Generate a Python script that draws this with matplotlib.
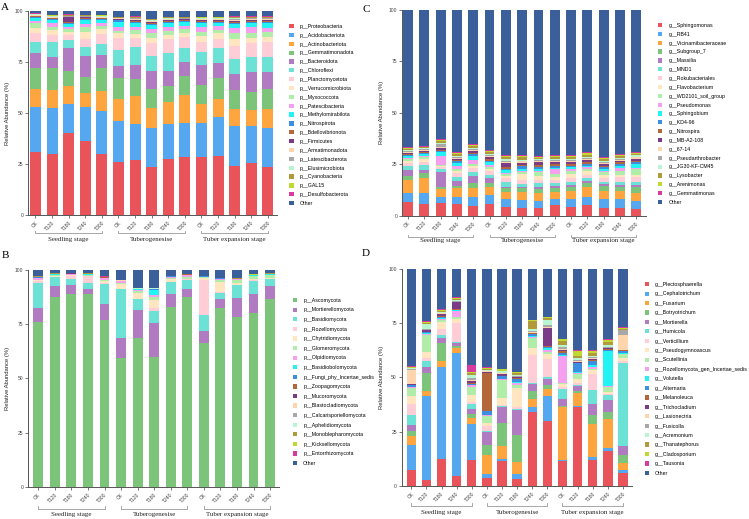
import matplotlib.pyplot as plt
import numpy as np

plt.rcParams["font.family"] = ["Liberation Sans", "DejaVu Sans"]

samples = ["CK", "T120", "T180", "T240", "T300"] * 3
stages = ["Seedling stage", "Tuberogenesise", "Tuber expansion stage"]

palette = [
    "#E9545A", "#55A8F0", "#FFA53F", "#7CC47A", "#B07BC0", "#6CE2D6", "#FFCDD6",
    "#FFE5C0", "#B0EDA8", "#F4A0EE", "#22F4F4", "#3B8EE0", "#B5673C", "#7B3B86",
    "#FFD5AE", "#A8A8A8", "#B8F5D0", "#B09A3C", "#BFD930", "#D93A9E", "#3A5F9B",
]

# ---- A: bacterial phyla (one row per sample, columns follow a_taxa)
a_taxa = [
    "p__Proteobacteria", "p__Acidobacteriota", "p__Actinobacteriota", "p__Gemmatimonadota",
    "p__Bacteroidota", "p__Chloroflexi", "p__Planctomycetota", "p__Verrucomicrobiota",
    "p__Myxococcota", "p__Patescibacteria", "p__Methylomirabilota", "p__Nitrospirota",
    "p__Bdellovibrionota", "p__Firmicutes", "p__Armatimonadota", "p__Latescibacterota",
    "p__Elusimicrobiota", "p__Cyanobacteria", "p__GAL15", "p__Desulfobacterota", "Other",
]
a_values = [
    [31.0, 21.8, 8.8, 10.3, 7.6, 5.4, 4.5, 2.5, 2.0, 1.3, 1.3, 0.5, 0.4, 0.3, 0.3, 0.2, 0.2, 0.2, 0.1, 0.1, 1.2],
    [29.9, 22.7, 8.7, 10.6, 5.7, 7.4, 3.2, 2.5, 1.6, 1.7, 1.6, 0.5, 0.4, 0.3, 0.3, 0.2, 0.2, 0.2, 0.1, 0.1, 2.1],
    [40.0, 14.4, 9.0, 7.2, 11.4, 3.8, 2.4, 1.7, 1.1, 1.3, 1.3, 0.5, 0.4, 2.5, 0.3, 0.2, 0.2, 0.2, 0.1, 0.3, 1.7],
    [36.3, 16.5, 7.2, 7.5, 10.5, 4.6, 3.6, 3.4, 2.8, 1.3, 2.0, 0.4, 0.4, 0.4, 0.3, 0.2, 0.2, 0.2, 0.1, 0.1, 2.0],
    [29.9, 21.1, 9.9, 11.3, 6.2, 5.4, 4.9, 2.3, 1.6, 1.4, 1.6, 0.4, 0.4, 0.4, 0.3, 0.2, 0.2, 0.2, 0.1, 0.1, 2.1],
    [26.1, 20.0, 10.8, 10.1, 6.2, 7.7, 5.7, 2.4, 1.4, 1.9, 2.5, 0.6, 0.4, 0.3, 0.3, 0.2, 0.2, 0.2, 0.1, 0.1, 2.8],
    [27.0, 17.6, 13.4, 8.7, 6.8, 8.7, 4.4, 2.1, 1.7, 1.6, 2.0, 0.6, 0.5, 0.5, 0.4, 0.3, 0.3, 0.3, 0.2, 0.2, 2.5],
    [23.7, 19.1, 9.5, 9.5, 8.8, 7.4, 6.2, 2.4, 2.4, 2.0, 2.0, 0.6, 0.5, 0.5, 0.4, 0.3, 0.3, 0.3, 0.2, 0.2, 3.7],
    [27.5, 16.9, 11.2, 7.6, 7.6, 8.4, 6.9, 2.1, 2.0, 1.8, 2.0, 0.6, 0.5, 0.5, 0.4, 0.3, 0.3, 0.3, 0.2, 0.2, 2.7],
    [28.6, 16.7, 13.5, 9.3, 6.9, 7.0, 5.1, 2.3, 1.6, 1.6, 2.2, 0.5, 0.4, 0.3, 0.3, 0.2, 0.2, 0.2, 0.2, 0.2, 2.7],
    [28.6, 16.7, 8.9, 9.4, 9.9, 6.2, 5.1, 2.9, 2.2, 2.4, 2.0, 0.5, 0.4, 0.4, 0.3, 0.3, 0.3, 0.2, 0.2, 0.2, 2.9],
    [28.9, 19.3, 8.8, 10.0, 7.7, 7.3, 4.3, 2.8, 1.6, 1.9, 1.7, 0.5, 0.4, 0.4, 0.3, 0.3, 0.3, 0.2, 0.2, 0.2, 2.9],
    [24.2, 19.6, 8.2, 9.3, 7.8, 7.4, 6.5, 3.3, 2.8, 2.4, 2.1, 0.6, 0.5, 0.5, 0.5, 0.4, 0.4, 0.4, 0.3, 0.3, 2.5],
    [25.7, 18.1, 7.7, 8.6, 10.2, 7.3, 6.6, 2.7, 2.5, 2.8, 1.8, 0.6, 0.5, 0.5, 0.4, 0.4, 0.3, 0.3, 0.3, 0.2, 2.5],
    [23.5, 19.0, 9.5, 9.8, 8.5, 7.0, 7.3, 2.7, 2.2, 2.3, 2.2, 0.6, 0.5, 0.5, 0.4, 0.4, 0.3, 0.3, 0.3, 0.2, 2.5],
]

# ---- B: fungal phyla
b_taxa = [
    "p__Ascomycota", "p__Mortierellomycota", "p__Basidiomycota", "p__Rozellomycota",
    "p__Chytridiomycota", "p__Glomeromycota", "p__Olpidiomycota", "p__Basidiobolomycota",
    "p__Fungi_phy_Incertae_sedis", "p__Zoopagomycota", "p__Mucoromycota",
    "p__Blastocladiomycota", "p__Calcarisporiellomycota", "p__Aphelidiomycota",
    "p__Monoblepharomycota", "p__Kickxellomycota", "p__Entorrhizomycota", "Other",
]
b_values = [
    [76.7, 6.4, 12.0, 0.8, 0.3, 0.2, 1.0, 0.1, 0.1, 0.1, 0.1, 0.05, 0.05, 0.05, 0.05, 0.05, 0.05, 2.9],
    [88.2, 5.2, 4.0, 0.3, 0.4, 0.3, 0.3, 0.1, 0.1, 0.05, 0.05, 0.05, 0.05, 0.05, 0.05, 0.05, 0.05, 1.5],
    [89.7, 4.2, 3.0, 1.3, 0.2, 0.2, 0.4, 0.1, 0.1, 0.05, 0.05, 0.05, 0.05, 0.05, 0.05, 0.05, 0.05, 1.3],
    [89.6, 2.4, 2.8, 3.0, 0.2, 0.2, 0.4, 0.1, 0.1, 0.05, 0.05, 0.05, 0.05, 0.05, 0.05, 0.05, 0.05, 1.5],
    [77.5, 7.2, 9.5, 0.1, 1.0, 0.7, 0.6, 0.1, 0.1, 0.3, 0.1, 0.05, 0.05, 0.05, 0.05, 0.05, 0.05, 3.0],
    [60.1, 9.2, 22.6, 0.2, 2.5, 0.3, 0.8, 0.1, 0.1, 0.05, 0.05, 0.05, 0.05, 0.05, 0.05, 0.05, 0.05, 4.6],
    [68.6, 13.0, 5.1, 0.3, 2.6, 0.7, 0.8, 0.2, 0.1, 0.05, 0.05, 0.05, 0.05, 0.05, 0.05, 0.05, 0.05, 8.4],
    [60.1, 15.7, 5.3, 1.6, 3.8, 1.2, 0.8, 2.3, 0.6, 0.05, 0.05, 0.05, 0.05, 0.05, 0.05, 0.05, 0.05, 8.4],
    [83.4, 5.9, 5.3, 0.2, 1.3, 0.6, 0.4, 0.1, 0.1, 0.05, 0.05, 0.05, 0.05, 0.05, 0.05, 0.05, 0.05, 2.6],
    [88.2, 3.7, 4.3, 0.1, 0.3, 0.9, 0.9, 0.1, 0.1, 0.05, 0.05, 0.05, 0.05, 0.05, 0.05, 0.05, 0.05, 1.7],
    [66.7, 5.5, 7.4, 16.3, 0.6, 0.5, 0.2, 0.1, 0.1, 0.05, 0.05, 0.05, 0.05, 0.05, 0.05, 0.05, 0.05, 2.6],
    [82.7, 4.0, 3.0, 0.4, 4.5, 1.3, 0.3, 0.1, 0.1, 0.05, 0.05, 0.05, 0.05, 0.05, 0.05, 0.05, 0.05, 3.5],
    [78.8, 8.8, 5.8, 0.2, 1.0, 1.3, 0.2, 0.1, 0.1, 0.05, 0.05, 0.05, 0.05, 0.05, 0.05, 0.05, 0.05, 3.8],
    [80.8, 8.9, 6.2, 0.2, 0.4, 1.6, 0.1, 0.1, 0.1, 0.05, 0.05, 0.05, 0.05, 0.05, 0.05, 0.05, 0.05, 2.0],
    [87.0, 6.1, 3.1, 0.1, 0.4, 1.4, 0.2, 0.1, 0.1, 0.05, 0.05, 0.05, 0.05, 0.05, 0.05, 0.05, 0.05, 1.5],
]

# ---- C: bacterial genera
c_taxa = [
    "g__Sphingomonas", "g__RB41", "g__Vicinamibacteraceae", "g__Subgroup_7", "g__Massilia",
    "g__MND1", "g__Rokubacteriales", "g__Flavobacterium", "g__WD2101_soil_group",
    "g__Pseudomonas", "g__Sphingobium", "g__KD4-96", "g__Nitrospira", "g__MB-A2-108",
    "g__67-14", "g__Pseudarthrobacter", "g__JG30-KF-CM45", "g__Lysobacter",
    "g__Arenimonas", "g__Gemmatimonas", "Other",
]
c_values = [
    [6.8, 4.4, 6.1, 2.0, 2.9, 1.9, 1.5, 1.0, 0.8, 0.6, 0.8, 0.6, 0.6, 0.5, 0.4, 0.4, 0.4, 0.6, 0.4, 0.5, 66.8],
    [5.8, 5.1, 7.3, 2.4, 1.6, 2.4, 1.6, 1.2, 1.0, 0.7, 0.8, 0.6, 0.6, 0.6, 0.4, 0.4, 0.4, 0.4, 0.3, 0.4, 66.1],
    [6.0, 3.2, 3.6, 1.3, 7.3, 1.1, 1.3, 0.6, 0.4, 4.4, 1.6, 0.7, 0.6, 0.6, 0.5, 1.7, 0.5, 0.8, 0.5, 0.5, 62.8],
    [5.8, 3.4, 4.1, 1.3, 2.3, 2.1, 1.6, 1.1, 0.8, 1.6, 1.6, 0.8, 0.7, 0.5, 0.5, 0.4, 0.5, 1.0, 0.5, 0.3, 68.9],
    [4.9, 4.3, 4.4, 2.1, 3.6, 2.1, 1.6, 1.0, 0.9, 2.4, 1.6, 0.9, 0.8, 0.8, 0.6, 0.5, 0.5, 1.0, 0.6, 0.5, 64.9],
    [5.7, 4.3, 4.1, 1.9, 2.2, 1.6, 1.8, 1.2, 1.0, 0.9, 1.2, 0.8, 0.8, 0.9, 0.6, 0.5, 0.5, 0.8, 0.5, 0.4, 68.3],
    [4.1, 3.8, 3.8, 1.6, 0.8, 2.4, 1.6, 1.3, 0.8, 0.8, 1.2, 0.7, 1.0, 1.6, 0.8, 0.5, 0.6, 1.0, 0.8, 0.4, 70.4],
    [3.7, 3.9, 4.1, 1.6, 0.8, 1.3, 1.9, 3.2, 0.8, 0.6, 0.9, 1.2, 0.8, 1.0, 0.6, 0.4, 0.5, 1.0, 0.8, 0.4, 70.5],
    [3.6, 3.7, 3.9, 1.6, 1.0, 1.9, 1.6, 1.9, 2.1, 0.6, 0.8, 1.0, 1.0, 1.2, 0.5, 0.5, 0.5, 0.6, 0.5, 0.3, 71.2],
    [5.2, 2.9, 3.6, 1.6, 1.1, 1.6, 1.3, 1.6, 1.6, 2.1, 0.8, 0.9, 0.8, 1.0, 0.6, 0.5, 0.6, 0.8, 0.6, 0.4, 70.4],
    [4.4, 3.7, 3.9, 2.1, 0.8, 1.6, 2.0, 2.0, 1.4, 0.8, 0.8, 0.8, 0.8, 0.8, 0.6, 0.5, 0.6, 0.8, 0.6, 0.5, 70.5],
    [5.2, 4.0, 4.9, 1.9, 0.9, 1.3, 1.6, 1.8, 1.2, 0.8, 0.8, 0.8, 0.8, 1.0, 0.6, 0.5, 0.6, 1.0, 0.8, 0.6, 68.9],
    [3.6, 4.3, 4.1, 2.4, 1.0, 1.1, 1.8, 1.6, 1.2, 0.8, 0.8, 0.8, 0.8, 0.8, 0.5, 0.5, 0.6, 0.8, 0.6, 0.4, 71.5],
    [3.6, 4.3, 4.1, 2.1, 0.8, 1.6, 2.1, 1.1, 1.8, 1.6, 1.3, 0.8, 0.8, 0.8, 0.5, 0.4, 0.5, 0.8, 0.6, 0.4, 70.0],
    [3.2, 3.9, 4.1, 2.6, 1.1, 1.6, 2.1, 1.1, 2.8, 0.6, 2.1, 0.8, 0.8, 1.0, 0.5, 0.4, 0.6, 0.8, 0.6, 0.4, 68.9],
]

# ---- D: fungal genera
d_taxa = [
    "g__Plectosphaerella", "g__Cephalotrichum", "g__Fusarium", "g__Botryotrichum",
    "g__Mortierella", "g__Humicola", "g__Verticillium", "g__Pseudogymnoascus",
    "g__Scutellinia", "g__Rozellomycota_gen_Incertae_sedis", "g__Volutella", "g__Alternaria",
    "g__Melanoleuca", "g__Trichocladium", "g__Lasionectria", "g__Fusicolla",
    "g__Acremonium", "g__Thanatephorus", "g__Cladosporium", "g__Tausonia", "Other",
]
d_values = [
    [7.2, 11.6, 4.1, 2.3, 3.1, 4.6, 5.1, 3.4, 3.8, 0.2, 0.3, 0.8, 0.2, 0.1, 6.6, 0.3, 0.5, 0.2, 0.3, 0.4, 44.9],
    [2.6, 38.8, 2.3, 8.6, 2.6, 2.6, 1.6, 2.7, 8.0, 0.3, 0.3, 0.4, 0.3, 0.6, 0.3, 0.3, 2.5, 0.3, 0.6, 0.2, 24.1],
    [12.6, 42.3, 2.6, 8.2, 2.6, 1.2, 2.8, 3.4, 0.8, 0.5, 0.3, 0.5, 0.6, 0.9, 0.3, 0.3, 0.4, 0.5, 0.5, 0.2, 18.5],
    [4.6, 56.9, 1.9, 1.2, 1.1, 0.5, 8.7, 2.0, 1.1, 2.6, 0.3, 0.3, 0.3, 3.1, 0.3, 0.3, 0.4, 0.6, 0.5, 0.2, 13.1],
    [11.8, 16.5, 2.8, 1.8, 2.5, 2.1, 1.2, 3.1, 3.9, 0.5, 0.4, 0.4, 0.5, 0.8, 0.6, 0.8, 1.5, 0.5, 0.5, 3.5, 44.0],
    [3.7, 2.0, 8.5, 4.9, 5.8, 0.5, 2.3, 1.5, 3.1, 0.2, 0.3, 1.8, 17.7, 0.3, 0.3, 0.3, 0.3, 0.4, 0.5, 0.4, 45.2],
    [11.5, 0.8, 6.2, 10.3, 7.7, 0.5, 0.4, 3.0, 8.5, 0.3, 0.3, 1.0, 0.3, 0.8, 0.3, 0.3, 0.6, 0.4, 0.5, 0.2, 46.1],
    [3.4, 2.3, 5.4, 12.3, 11.5, 0.6, 0.8, 9.0, 1.4, 0.8, 0.4, 1.5, 0.3, 0.3, 0.3, 0.4, 0.4, 0.8, 0.6, 0.2, 47.3],
    [34.2, 2.3, 3.8, 3.4, 3.5, 0.3, 12.8, 3.1, 4.9, 0.3, 0.6, 0.8, 0.3, 0.3, 0.4, 0.3, 1.2, 3.4, 0.5, 0.2, 23.4],
    [29.8, 11.6, 3.2, 1.9, 3.0, 0.8, 8.2, 2.1, 1.2, 0.8, 0.8, 0.8, 0.3, 8.5, 0.5, 0.5, 2.3, 1.0, 0.6, 0.2, 21.9],
    [11.4, 0.4, 24.7, 0.3, 3.0, 4.6, 1.1, 1.2, 0.8, 12.3, 0.5, 0.7, 1.2, 0.3, 0.4, 1.0, 1.0, 1.5, 1.0, 0.3, 32.0],
    [36.5, 0.2, 6.1, 0.8, 2.3, 0.5, 1.2, 1.5, 2.3, 0.8, 0.5, 3.8, 0.3, 0.3, 0.5, 0.5, 0.8, 1.2, 2.3, 0.2, 37.4],
    [11.8, 1.6, 15.1, 4.4, 5.1, 6.2, 7.6, 1.5, 0.8, 0.8, 0.8, 1.8, 0.5, 0.3, 0.5, 0.5, 0.5, 1.5, 1.1, 0.2, 37.4],
    [16.0, 1.7, 13.4, 3.1, 5.3, 2.3, 0.8, 0.8, 2.3, 0.5, 16.2, 0.5, 0.3, 0.3, 0.3, 0.3, 0.8, 1.5, 1.1, 0.2, 32.3],
    [6.0, 1.2, 3.6, 3.4, 4.1, 38.5, 0.8, 1.2, 1.8, 0.3, 0.3, 1.0, 0.3, 0.3, 6.6, 2.3, 0.3, 0.4, 0.6, 0.2, 26.8],
]


def draw_panel(fig, rect, values, taxa, colors, letter, letter_xy, xlim, bar_width,
               legend_xy, legend_spacing, bracket_y, stage_y):
    ax = fig.add_axes(rect)
    data = np.array(values, dtype=float)
    data = data / data.sum(axis=1, keepdims=True) * 100
    x = np.arange(len(samples))
    bottom = np.zeros(len(samples))
    for i, name in enumerate(taxa):
        ax.bar(x, data[:, i], bottom=bottom, width=bar_width, color=colors[i],
               label=name, linewidth=0)
        bottom += data[:, i]

    ax.set_xlim(*xlim)
    ax.set_ylim(0, 100)
    ax.set_yticks([0, 25, 50, 75, 100])
    ax.set_xticks(x)
    ax.set_xticklabels(samples, rotation=45, ha="right", rotation_mode="anchor")
    ax.tick_params(axis="both", labelsize=3.6, length=2, width=0.5, pad=1.5, colors="#444444")
    ax.set_ylabel("Relative Abundance (%)", fontsize=4.2, labelpad=3, color="#222222")
    for side in ("top", "right"):
        ax.spines[side].set_visible(False)
    for side in ("left", "bottom"):
        ax.spines[side].set_linewidth(0.7)
        ax.spines[side].set_color("#555555")

    # stage brackets under the sample labels
    trans = ax.get_xaxis_transform()
    for k, stage in enumerate(stages):
        x0, x1 = 5 * k, 5 * k + 4
        ax.plot([x0, x0, x1, x1], [bracket_y + 0.012, bracket_y, bracket_y, bracket_y + 0.012],
                transform=trans, clip_on=False, color="#999999", lw=0.6)
        ax.text((x0 + x1) / 2, stage_y, stage, transform=trans, ha="center", va="center",
                fontsize=5, family="Liberation Serif", color="#222222")

    ax.legend(loc="upper left", bbox_to_anchor=legend_xy, bbox_transform=fig.transFigure,
              frameon=False, fontsize=3.8, handlelength=0.85, handleheight=0.85,
              handletextpad=1.1, labelspacing=legend_spacing, borderpad=0, borderaxespad=0)
    fig.text(letter_xy[0] / 749, 1 - letter_xy[1] / 519, letter, fontsize=8,
             family="Liberation Serif", ha="center", va="center")
    return ax


fig = plt.figure(figsize=(7.49, 5.19), dpi=100)

draw_panel(fig, [0.0374, 0.5857, 0.3324, 0.3931], a_values, a_taxa, palette,
           "A", (5, 7), (-0.45, 14.55), 0.66, (0.386, 0.954), 0.73, -0.088, -0.118)
draw_panel(fig, [0.0374, 0.0617, 0.3351, 0.4181], b_values, b_taxa, palette[3:],
           "B", (5, 256), (-0.62, 14.54), 0.6, (0.391, 0.426), 0.87, -0.101, -0.126)
draw_panel(fig, [0.5367, 0.5844, 0.3258, 0.3963], c_values, c_taxa, palette,
           "C", (366, 9), (-0.37, 14.6), 0.6, (0.8785, 0.956), 0.73, -0.105, -0.123)
draw_panel(fig, [0.5363, 0.0636, 0.3071, 0.4181], d_values, d_taxa, palette,
           "D", (366, 254), (-0.64, 14.58), 0.62, (0.861, 0.4566), 0.84, -0.091, -0.121)

fig.savefig("out.png", dpi=100)
